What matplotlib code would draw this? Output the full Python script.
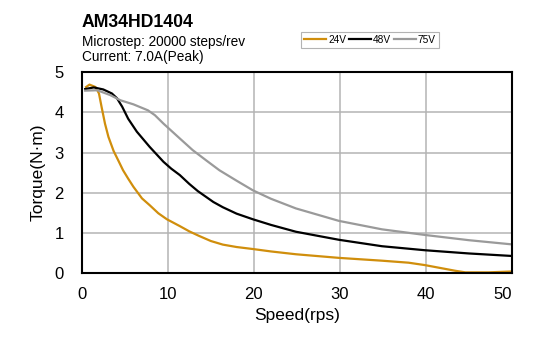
import numpy as np
import matplotlib
matplotlib.use('Agg')
import matplotlib.pyplot as plt

plt.rcParams['font.family'] = ['Liberation Sans', 'DejaVu Sans']

# speed (rps) / torque (N*m)
speed_24 = [0.5, 0.9, 1.6, 2.0, 2.3, 2.7, 3.1, 3.7, 4.3, 4.8, 5.4, 6.0, 7.0, 7.9, 8.9, 9.9, 11.4,
            12.5, 13.6, 15.0, 16.4, 18.0, 19.9, 22.0, 24.9, 29.9, 34.9, 38.0, 39.9, 41.9, 43.4, 44.6, 47.3, 49.8]
torque_24 = [4.63, 4.69, 4.63, 4.47, 4.14, 3.72, 3.39, 3.04, 2.78, 2.56, 2.35, 2.15, 1.86, 1.69, 1.49, 1.34, 1.17,
             1.04, 0.93, 0.8, 0.71, 0.65, 0.6, 0.54, 0.47, 0.38, 0.31, 0.26, 0.2, 0.12, 0.06, 0.02, 0.02, 0.04]

speed_48 = [0.4, 1.4, 2.5, 3.5, 4.1, 4.7, 5.4, 6.4, 7.9, 9.5, 10.4, 11.4, 12.5, 13.5, 15.3, 16.4, 18.0, 19.9,
            22.0, 24.9, 29.9, 34.9, 39.9, 45.0, 49.8]
torque_48 = [4.58, 4.62, 4.57, 4.47, 4.35, 4.14, 3.84, 3.52, 3.14, 2.77, 2.6, 2.44, 2.22, 2.04, 1.77, 1.64, 1.48, 1.34,
             1.2, 1.03, 0.83, 0.67, 0.57, 0.49, 0.43]

speed_75 = [0.4, 1.8, 3.3, 4.5, 6.0, 7.7, 8.5, 9.5, 11.4, 12.9, 14.5, 16.0, 18.0, 19.9, 22.0, 24.9, 29.9, 34.9,
            39.9, 45.0, 49.8]
torque_75 = [4.54, 4.55, 4.43, 4.3, 4.2, 4.05, 3.93, 3.72, 3.35, 3.06, 2.8, 2.56, 2.3, 2.06, 1.85, 1.61, 1.3, 1.09,
             0.95, 0.82, 0.72]

fig = plt.figure(figsize=(5.6, 3.52), dpi=100)
ax = fig.add_axes([0.146, 0.224, 0.768, 0.571])

ax.plot(speed_24, torque_24, color='#D08E0C', lw=1.6, label='24V', solid_joinstyle='round')
ax.plot(speed_48, torque_48, color='black', lw=1.6, label='48V', solid_joinstyle='round')
ax.plot(speed_75, torque_75, color='#9A9A9A', lw=1.6, label='75V', solid_joinstyle='round')

ax.set_xlim(0, 50)
ax.set_ylim(0, 5)
ax.set_xticks([0, 10, 20, 30, 40, 50])
ax.set_yticks([0, 1, 2, 3, 4, 5])
ax.grid(True, color='#B4B4B4', lw=1.1)
ax.set_axisbelow(True)
ax.tick_params(length=0, labelsize=12)
ax.tick_params(axis='y', pad=13)
ax.tick_params(axis='x', pad=10)
ax.get_xticklabels()[-1].set_horizontalalignment('right')
for s in ax.spines.values():
    s.set_linewidth(1.5)

ax.set_xlabel('Speed(rps)', fontsize=12.5, labelpad=4)
ax.set_ylabel('Torque(N·m)', fontsize=12.5, labelpad=6)

fig.text(0.146, 0.922, 'AM34HD1404', fontsize=12.7, fontweight='bold', va='baseline')
fig.text(0.146, 0.87, 'Microstep: 20000 steps/rev', fontsize=9.8, va='baseline')
fig.text(0.146, 0.827, 'Current: 7.0A(Peak)', fontsize=9.8, va='baseline')

leg = ax.legend(loc='lower left', bbox_to_anchor=(0.51, 1.12), ncol=3, fontsize=7.3,
                frameon=True, fancybox=False, edgecolor='#A0A0A0',
                handlelength=2.2, handletextpad=0.15, columnspacing=0.3,
                borderpad=0.3, borderaxespad=0)
leg.get_frame().set_linewidth(0.8)

fig.savefig('out.png', dpi=100)
